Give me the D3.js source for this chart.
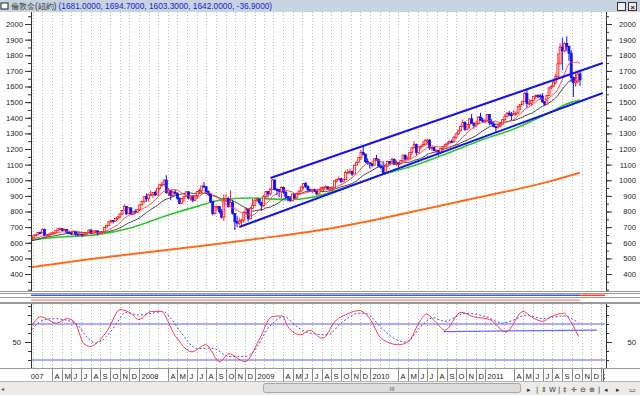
<!DOCTYPE html>
<html>
<head>
<meta charset="utf-8">
<script src="https://cdn.jsdelivr.net/npm/d3@7"></script>
<style>
  html, body { margin: 0; padding: 0; background: #fff; }
  svg { display: block; font-family: "Liberation Sans", Arial, sans-serif; }
</style>
</head>
<body>
<svg id="chart" width="640" height="395"></svg>
<script>
// weekly bars [open, high, low, close], one per Friday starting 2007-01-12
const firstFriday = new Date(2007, 0, 12);
const bars2007 = [
  [610,633,605,631],[631,637,622,631],[631,648,628,645],[645,656,642,653],[653,667,650,665],
  [665,672,658,664],[664,690,662,685],[685,690,640,645],[645,655,637,651],[651,660,640,654],
  [654,666,650,663],[663,668,654,663],[663,680,660,677],[677,692,675,690],[690,697,682,690],
  [690,693,676,680],[680,691,677,685],[685,688,664,667],[667,674,657,663],[663,668,650,655],
  [655,677,652,673],[673,676,645,656],[656,661,645,655],[655,664,649,655],[655,658,640,650],
  [650,659,647,655],[655,668,653,667],[667,685,665,681],[681,686,658,661],[661,678,660,675],
  [675,681,661,676],[676,678,648,661],[661,670,657,668],[668,674,660,673],[673,702,670,699],
  [699,715,695,711],[711,738,708,734],[734,746,725,743],[743,745,723,738],[738,757,735,755],
  [755,770,745,765],[765,787,755,784],[784,810,780,806],[806,848,804,832],[832,835,777,786],
  [786,828,783,823],[823,827,778,782],[782,805,776,799],[799,814,785,796],[796,813,792,811],
  [811,845,808,842]
];
const bars2008 = [
  [842,869,838,865],[865,898,852,895],[895,915,862,882],[882,915,865,907],[907,933,898,909],
  [909,924,888,922],[922,935,899,906],[906,953,903,948],[948,976,935,972],[972,988,960,972],
  [972,1005,966,1001],[1001,1032,915,920],[920,950,900,932],[932,938,872,903],[903,935,896,924],
  [924,940,908,917],[917,920,875,885],[885,890,846,852],[852,885,850,882],[882,900,860,897],
  [897,930,895,926],[926,930,877,886],[886,904,870,899],[899,905,860,872],[872,906,868,903],
  [903,930,880,927],[927,945,915,934],[934,965,914,963],[963,988,952,958],[958,962,915,927],
  [927,935,900,912],[912,918,855,865],[865,868,775,787],[787,838,780,830],[830,838,808,832],
  [832,835,786,800],[800,815,755,764],[764,910,740,868],[868,910,860,880],[880,895,825,831],
  [831,935,828,859],[859,872,780,787],[787,790,681,735],[735,770,700,725],[725,760,712,738],
  [738,752,705,745],[745,802,730,792],[792,828,778,816],[816,818,737,753],[753,830,750,820],
  [820,880,818,838],[838,878,834,872]
];
const bars2009 = [
  [872,890,862,878],[878,884,842,857],[857,862,805,838],[838,905,832,897],[897,930,880,928],
  [928,931,890,913],[913,950,900,942],[942,1007,940,1002],[1002,1003,935,942],[942,950,904,940],
  [940,943,890,929],[929,962,882,953],[953,958,912,924],[924,930,880,897],[897,898,865,883],
  [883,895,862,869],[869,915,867,912],[912,915,880,887],[887,920,883,915],[915,935,909,931],
  [931,960,925,957],[957,982,941,979],[979,990,950,962],[962,965,928,939],[939,945,925,934],
  [934,945,917,940],[940,948,925,931],[931,935,905,912],[912,940,911,938],[938,956,930,953],
  [953,960,924,954],[954,968,950,958],[958,960,938,948],[948,955,932,953],[953,960,935,955],
  [955,1000,949,996],[996,1010,985,1006],[1006,1025,1000,1010],[1010,1014,986,990],[990,1010,987,1004],
  [1004,1062,1000,1050],[1050,1070,1042,1051],[1051,1072,1038,1056],[1056,1062,1026,1040],[1040,1100,1040,1096],
  [1096,1120,1095,1115],[1115,1150,1114,1146],[1146,1195,1130,1177],[1177,1227,1160,1167],[1167,1170,1110,1120],
  [1120,1140,1100,1111],[1111,1111,1075,1105]
];
const bars2010 = [
  [1105,1110,1083,1096],[1096,1140,1095,1138],[1138,1162,1125,1130],[1130,1140,1087,1090],[1090,1105,1075,1081],
  [1081,1123,1045,1050],[1050,1095,1049,1090],[1090,1125,1088,1120],[1120,1122,1095,1118],[1118,1145,1115,1134],
  [1134,1140,1098,1102],[1102,1128,1092,1107],[1107,1110,1085,1106],[1106,1130,1102,1126],[1126,1163,1125,1161],
  [1161,1163,1125,1136],[1136,1152,1130,1142],[1142,1180,1140,1179],[1179,1210,1162,1208],[1208,1250,1203,1228],
  [1228,1235,1160,1177],[1177,1217,1175,1213],[1213,1222,1197,1218],[1218,1250,1216,1229],[1229,1263,1220,1256],
  [1256,1262,1229,1256],[1256,1265,1195,1207],[1207,1216,1190,1210],[1210,1215,1186,1190],[1190,1200,1176,1190],
  [1190,1192,1157,1180],[1180,1207,1176,1204],[1204,1216,1190,1215],[1215,1235,1215,1227],[1227,1244,1221,1237],
  [1237,1254,1235,1248],[1248,1260,1240,1246],[1246,1283,1240,1275],[1275,1300,1270,1297],[1297,1322,1290,1317],
  [1317,1350,1312,1345],[1345,1388,1340,1369],[1369,1378,1316,1326],[1326,1360,1318,1357],[1357,1398,1330,1393],
  [1393,1424,1360,1366],[1366,1370,1330,1352],[1352,1380,1340,1362],[1362,1410,1358,1405],[1405,1432,1380,1385],
  [1385,1400,1370,1378],[1378,1392,1375,1380],[1380,1424,1377,1421]
];
const bars2011 = [
  [1421,1423,1353,1369],[1369,1390,1358,1360],[1360,1375,1340,1343],[1343,1345,1309,1341],[1341,1360,1330,1348],
  [1348,1370,1340,1360],[1360,1392,1357,1388],[1388,1420,1380,1409],[1409,1437,1406,1429],[1429,1445,1410,1420],
  [1420,1437,1383,1419],[1419,1448,1415,1428],[1428,1440,1410,1429],[1429,1476,1428,1474],[1474,1486,1449,1486],
  [1486,1508,1485,1504],[1504,1566,1503,1556],[1556,1577,1462,1491],[1491,1520,1480,1494],[1494,1512,1477,1510],
  [1510,1540,1505,1536],[1536,1549,1520,1542],[1542,1550,1525,1540],[1540,1553,1515,1539],[1539,1558,1496,1502],
  [1502,1508,1478,1486],[1486,1545,1483,1542],[1542,1595,1540,1591],[1591,1610,1584,1601],[1601,1632,1598,1628],
  [1628,1682,1615,1663],[1663,1814,1660,1745],[1745,1877,1743,1852],[1852,1912,1705,1828],[1828,1882,1820,1876],
  [1876,1921,1826,1856],[1856,1862,1765,1813],[1813,1832,1627,1657],[1657,1665,1534,1624],[1624,1684,1600,1635],
  [1635,1688,1618,1679],[1681,1694.7,1603.3,1642.0]
];
// closes of the 19 weeks before the first bar (only feed the moving averages)
const closes2006 = [626,600,582,597,599,571,591,598,604,624,619,620,637,647,626,619,621,632,608];

// long averages: [decimal year, price]
const greenMA = [[2007.03,617],[2007.33,638],[2007.62,652],[2007.91,694],[2008.21,771],[2008.5,836],
  [2008.68,872],[2008.94,886],[2009.28,876],[2009.46,888],[2009.79,959],[2010.08,1034],[2010.38,1098],
  [2010.66,1174],[2010.95,1258],[2011.25,1335],[2011.53,1430],[2011.73,1500],[2011.80,1514]];
const orangeMA = [[2007.03,442],[2007.5,490],[2008.0,535],[2008.5,578],[2009.0,625],[2009.5,675],
  [2009.8,714],[2010.3,790],[2010.86,880],[2011.53,991],[2011.80,1048]];

// trend channel drawn on the chart
const channelTop = [[2009.12,1014],[2012.0,1750]];
const channelBottom = [[2008.85,701],[2012.0,1558]];

// oscillator (lower pane): [decimal year, value]
const oscMain = [[2007.04,65],[2007.13,78],[2007.27,71],[2007.36,76],[2007.43,71],[2007.50,49],[2007.56,45],
  [2007.64,52],[2007.71,63],[2007.82,86],[2007.91,82],[2007.98,75],[2008.09,84],[2008.17,84],[2008.30,56],
  [2008.44,39],[2008.56,47],[2008.68,28],[2008.76,37],[2008.86,30],[2008.90,28],[2009.02,52],[2009.13,78],
  [2009.22,79],[2009.27,67],[2009.38,58],[2009.46,63],[2009.57,54],[2009.68,73],[2009.80,82],[2009.89,85],
  [2009.98,76],[2010.08,54],[2010.23,47],[2010.31,50],[2010.42,74],[2010.47,81],[2010.56,71],[2010.63,63],
  [2010.77,83],[2010.88,78],[2011.02,75],[2011.16,61],[2011.31,84],[2011.38,78],[2011.48,73],[2011.55,78],
  [2011.66,82],[2011.73,71],[2011.79,56]];
const oscSignal = [[2007.04,60],[2007.13,73],[2007.24,76],[2007.36,74],[2007.45,69],[2007.54,54],[2007.61,49],
  [2007.70,56],[2007.77,67],[2007.87,83],[2007.98,80],[2008.10,82],[2008.19,84],[2008.26,76],[2008.35,60],
  [2008.48,43],[2008.62,43],[2008.76,34],[2008.90,34],[2008.97,39],[2009.11,67],[2009.24,78],[2009.33,69],
  [2009.43,61],[2009.61,58],[2009.75,73],[2009.89,82],[2009.96,81],[2010.07,67],[2010.19,54],[2010.30,50],
  [2010.42,67],[2010.53,77],[2010.63,73],[2010.81,82],[2010.99,78],[2011.13,71],[2011.22,74],[2011.34,80],
  [2011.48,76],[2011.66,79],[2011.79,71]];
const oscLevels = [70, 30];
const oscSupport = [[2010.62,61.5],[2011.95,63.3]];

const priceTicks = d3.range(400, 2001, 100);
const monthLetters = ["", "F", "M", "A", "M", "J", "J", "A", "S", "O", "N", "D"];
const skippedMonths = [1, 2];
const titleName = "倫敦金(紐約)";
const titleQuote = "(1681.0000, 1694.7000, 1603.3000, 1642.0000, -36.9000)";

// ---------------------------------------------------------------
const svg = d3.select("#chart");
const left = 31, right = 605;
const mainTop = 12, mainBottom = 291, oscTop = 304, oscBottom = 368;

const fromYear = t => {
  const y = Math.floor(t), a = new Date(y, 0, 1), b = new Date(y + 1, 0, 1);
  return new Date(+a + (t - y) * (b - a));
};

const x = d3.scaleTime().domain([new Date(2007, 0, 18), new Date(2012, 0, 8)]).range([left, right]);
const y = d3.scaleLinear().domain([400, 2000]).range([274, 24]);
const yo = d3.scaleLinear().domain([30, 70]).range([360, 324]);

const bars = [].concat(bars2007, bars2008, bars2009, bars2010, bars2011).map((b, i) => ({
  date: d3.timeDay.offset(firstFriday, 7 * i), o: b[0], h: b[1], l: b[2], c: b[3]
}));
const allCloses = closes2006.concat(bars.map(b => b.c));
const movingAvg = n => bars.map((b, i) => {
  const end = i + closes2006.length + 1;
  return { date: b.date, v: d3.mean(allCloses.slice(Math.max(0, end - n), end)) };
});

// background blocks
svg.append("rect").attr("width", 640).attr("height", 395).attr("fill", "#fff");
svg.append("rect").attr("width", 640).attr("height", 12).attr("fill", "#c7d3e0");
svg.append("rect").attr("x", 1).attr("y", 3).attr("width", 7).attr("height", 6)
  .attr("fill", "#fff").attr("stroke", "#222").attr("stroke-width", 1);
const title = svg.append("text").attr("x", 11).attr("y", 9).attr("font-size", 8.3);
title.append("tspan").attr("fill", "#333").text(titleName);
title.append("tspan").attr("fill", "#1c1cd0").attr("dx", 2).text(titleQuote);
svg.append("rect").attr("x", 617.5).attr("y", 2.5).attr("width", 8).attr("height", 8)
  .attr("fill", "#eee").attr("stroke", "#333");
svg.append("rect").attr("x", 628.5).attr("y", 2.5).attr("width", 8).attr("height", 8)
  .attr("fill", "#eee").attr("stroke", "#333");
svg.append("text").attr("x", 632.5).attr("y", 9.5).attr("text-anchor", "middle")
  .attr("font-size", 8).attr("font-weight", "bold").attr("fill", "#222").text("×");

const defs = svg.append("defs");
defs.append("clipPath").attr("id", "clipMain").append("rect")
  .attr("x", left).attr("y", mainTop).attr("width", right - left).attr("height", mainBottom - mainTop);
defs.append("clipPath").attr("id", "clipOsc").append("rect")
  .attr("x", left).attr("y", oscTop).attr("width", right - left).attr("height", oscBottom - oscTop);
defs.append("clipPath").attr("id", "clipRow").append("rect")
  .attr("x", left).attr("y", oscBottom).attr("width", right - left).attr("height", 13);

// month grid
const months = d3.timeMonth.range(new Date(2007, 0, 1), new Date(2012, 0, 2));
[[mainTop, mainBottom], [oscTop, oscBottom]].forEach(([t, b]) => {
  svg.append("g").selectAll("line").data(months.filter(m => x(m) > left + 1 && x(m) < right - 1))
    .join("line")
    .attr("x1", d => Math.round(x(d)) - 1.5).attr("x2", d => Math.round(x(d)) - 1.5)
    .attr("y1", t).attr("y2", b)
    .attr("stroke", "#b8b8b8").attr("stroke-width", 1).attr("stroke-dasharray", "1,2");
});

// main pane
const main = svg.append("g").attr("clip-path", "url(#clipMain)");
const lineP = d3.line().x(d => x(fromYear(d[0]))).y(d => y(d[1])).curve(d3.curveMonotoneX);
const lineMA = d3.line().x(d => x(d.date)).y(d => y(d.v));

main.append("path").attr("d", lineP(orangeMA)).attr("fill", "none")
  .attr("stroke", "#ff6a1c").attr("stroke-width", 2);
main.append("path").attr("d", lineP(greenMA)).attr("fill", "none")
  .attr("stroke", "#2ec82e").attr("stroke-width", 1.6);
main.append("path").attr("d", lineMA(movingAvg(20))).attr("fill", "none")
  .attr("stroke", "#333").attr("stroke-width", 0.9);

const candle = main.append("g").selectAll("g").data(bars).join("g");
const up = d => d.c >= d.o;
candle.append("line")
  .attr("x1", d => x(d.date)).attr("x2", d => x(d.date))
  .attr("y1", d => y(d.h)).attr("y2", d => y(d.l))
  .attr("stroke", d => up(d) ? "#ff1a1a" : "#1010ff").attr("stroke-width", 1);
candle.append("rect")
  .attr("x", d => x(d.date) - 1).attr("width", 2)
  .attr("y", d => y(Math.max(d.o, d.c)))
  .attr("height", d => Math.max(1, Math.abs(y(d.o) - y(d.c))))
  .attr("fill", d => up(d) ? "#ffd0d0" : "#1010ff")
  .attr("stroke", d => up(d) ? "#ff1a1a" : "#1010ff").attr("stroke-width", 0.8);

main.append("path").attr("d", lineMA(movingAvg(10))).attr("fill", "none")
  .attr("stroke", "#ff3a3a").attr("stroke-width", 0.9);

const lineStraight = d3.line().x(d => x(fromYear(d[0]))).y(d => y(d[1]));
[channelTop, channelBottom].forEach(c => {
  main.append("path").attr("d", lineStraight(c)).attr("fill", "none")
    .attr("stroke", "#1414e6").attr("stroke-width", 2);
});

// price axes
const minorTicks = d3.range(300, 2051, 50);
svg.append("g").attr("transform", `translate(${left},0)`)
  .call(d3.axisLeft(y).tickValues(minorTicks).tickSize(3).tickFormat(""))
  .call(g => g.select(".domain").remove());
svg.append("g").attr("transform", `translate(${left},0)`)
  .call(d3.axisLeft(y).tickValues(priceTicks).tickSize(6).tickPadding(2).tickFormat(d3.format("d")))
  .call(g => g.select(".domain").remove())
  .call(g => g.selectAll("text").attr("font-size", 7.6).attr("fill", "#222"));
svg.append("g").attr("transform", `translate(${right + 1},0)`)
  .call(d3.axisRight(y).tickValues(minorTicks).tickSize(3).tickFormat(""))
  .call(g => g.select(".domain").remove());
svg.append("g").attr("transform", `translate(${right + 1},0)`)
  .call(d3.axisRight(y).tickValues(priceTicks).tickSize(6).tickFormat(d3.format("d")))
  .call(g => g.select(".domain").remove())
  .call(g => g.selectAll("text").attr("x", 30).attr("text-anchor", "end")
    .attr("font-size", 7.6).attr("fill", "#222"));
svg.selectAll(".tick line").attr("stroke", "#333");
[[mainTop, mainBottom], [oscTop, oscBottom]].forEach(([t, b]) => {
  svg.append("line").attr("x1", left + 0.5).attr("x2", left + 0.5).attr("y1", t).attr("y2", b).attr("stroke", "#333");
  svg.append("line").attr("x1", right + 1.5).attr("x2", right + 1.5).attr("y1", t).attr("y2", b).attr("stroke", "#333");
});

// separator strip between panes
[291.5, 293.5, 297.5, 302.5, 303.5].forEach(v => {
  svg.append("line").attr("x1", 0).attr("x2", 640).attr("y1", v).attr("y2", v).attr("stroke", "#9a9a9a");
});
svg.append("line").attr("x1", left).attr("x2", x(bars[bars.length - 1].date)).attr("y1", 295.3).attr("y2", 295.3)
  .attr("stroke", "#3a5fc8").attr("stroke-width", 1.6);
svg.append("line").attr("x1", x(bars[bars.length - 1].date)).attr("x2", right).attr("y1", 295.3).attr("y2", 295.3)
  .attr("stroke", "#f04a20").attr("stroke-width", 1.6);
svg.append("line").attr("x1", left).attr("x2", x(bars[bars.length - 1].date)).attr("y1", 300).attr("y2", 300)
  .attr("stroke", "#f26a6a").attr("stroke-width", 1);

// oscillator pane
const osc = svg.append("g").attr("clip-path", "url(#clipOsc)");
const lineO = d3.line().x(d => x(fromYear(d[0]))).y(d => yo(d[1]));
oscLevels.forEach(v => {
  osc.append("line").attr("x1", left).attr("x2", right).attr("y1", yo(v)).attr("y2", yo(v))
    .attr("stroke", "#5a5aff").attr("stroke-width", 1);
});
osc.append("path").attr("d", lineO(oscSupport)).attr("fill", "none")
  .attr("stroke", "#6a6aff").attr("stroke-width", 1.3);
osc.append("path").attr("d", lineO.curve(d3.curveMonotoneX)(oscSignal)).attr("fill", "none")
  .attr("stroke", "#4a4aff").attr("stroke-width", 1).attr("stroke-dasharray", "2,2");
osc.append("path").attr("d", lineO.curve(d3.curveMonotoneX)(oscMain)).attr("fill", "none")
  .attr("stroke", "#ff3a3a").attr("stroke-width", 1);

const oscTicks = d3.range(30, 91, 10);
svg.append("g").attr("transform", `translate(${left},0)`)
  .call(d3.axisLeft(yo).tickValues(oscTicks).tickSize(3).tickFormat(""))
  .call(g => g.select(".domain").remove());
svg.append("g").attr("transform", `translate(${left},0)`)
  .call(d3.axisLeft(yo).tickValues([50]).tickSize(6).tickPadding(4))
  .call(g => g.select(".domain").remove())
  .call(g => g.selectAll("text").attr("font-size", 7.6).attr("fill", "#222"));
svg.append("g").attr("transform", `translate(${right + 1},0)`)
  .call(d3.axisRight(yo).tickValues(oscTicks).tickSize(3).tickFormat(""))
  .call(g => g.select(".domain").remove());
svg.append("g").attr("transform", `translate(${right + 1},0)`)
  .call(d3.axisRight(yo).tickValues([50]).tickSize(6))
  .call(g => g.select(".domain").remove())
  .call(g => g.selectAll("text").attr("x", 30).attr("text-anchor", "end")
    .attr("font-size", 7.6).attr("fill", "#222"));
svg.selectAll(".tick line").attr("stroke", "#333");

// date row
svg.append("line").attr("x1", 0).attr("x2", 640).attr("y1", oscBottom + 0.5).attr("y2", oscBottom + 0.5).attr("stroke", "#999");
const row = svg.append("g").attr("clip-path", "url(#clipRow)");
const shown = months.filter(m => !skippedMonths.includes(m.getMonth()));
row.selectAll("line").data(shown).join("line")
  .attr("x1", d => Math.round(x(d)) - 1.5).attr("x2", d => Math.round(x(d)) - 1.5)
  .attr("y1", oscBottom + 1).attr("y2", oscBottom + 13)
  .attr("stroke", "#8a8a8a");
row.selectAll("text").data(shown).join("text")
  .attr("x", d => Math.round(x(d)) + 0.5).attr("y", oscBottom + 10.5)
  .attr("font-size", 7.6).attr("fill", "#222")
  .text(d => d.getMonth() === 0 ? String(d.getFullYear()) : monthLetters[d.getMonth()]);
svg.append("line").attr("x1", right - 1.5).attr("x2", right - 1.5).attr("y1", oscBottom + 1).attr("y2", oscBottom + 13).attr("stroke", "#555");

// scrollbar / toolbar strip
svg.append("rect").attr("x", 0).attr("y", 381).attr("width", 640).attr("height", 14).attr("fill", "#ecebe9");
svg.append("line").attr("x1", 0).attr("x2", 640).attr("y1", 381.5).attr("y2", 381.5).attr("stroke", "#b5b5b5");
svg.append("rect").attr("x", 263.5).attr("y", 383.5).attr("width", 257).attr("height", 9).attr("rx", 2)
  .attr("fill", "#dcdcdc").attr("stroke", "#a8a8a8");
svg.append("text").attr("x", 392).attr("y", 391).attr("text-anchor", "middle").attr("font-size", 6).attr("fill", "#555").text("III");
svg.append("text").attr("x", 1).attr("y", 391).attr("font-size", 6).attr("fill", "#555").text("◂");
const tools = [[527, "▸"], [536, "|"], [541, "⇕"], [549, "W"], [558, "|"], [563, "‡"], [571, "✛"], [580, "⊖"], [589, "⊕"], [598, "|"], [604, "◂"], [616, "▸"], [629, "▭"]];
svg.append("g").selectAll("text").data(tools).join("text")
  .attr("x", d => d[0]).attr("y", 391.5).attr("font-size", 7).attr("fill", "#333")
  .attr("font-family", "DejaVu Sans, sans-serif").text(d => d[1]);
</script>
</body>
</html>
